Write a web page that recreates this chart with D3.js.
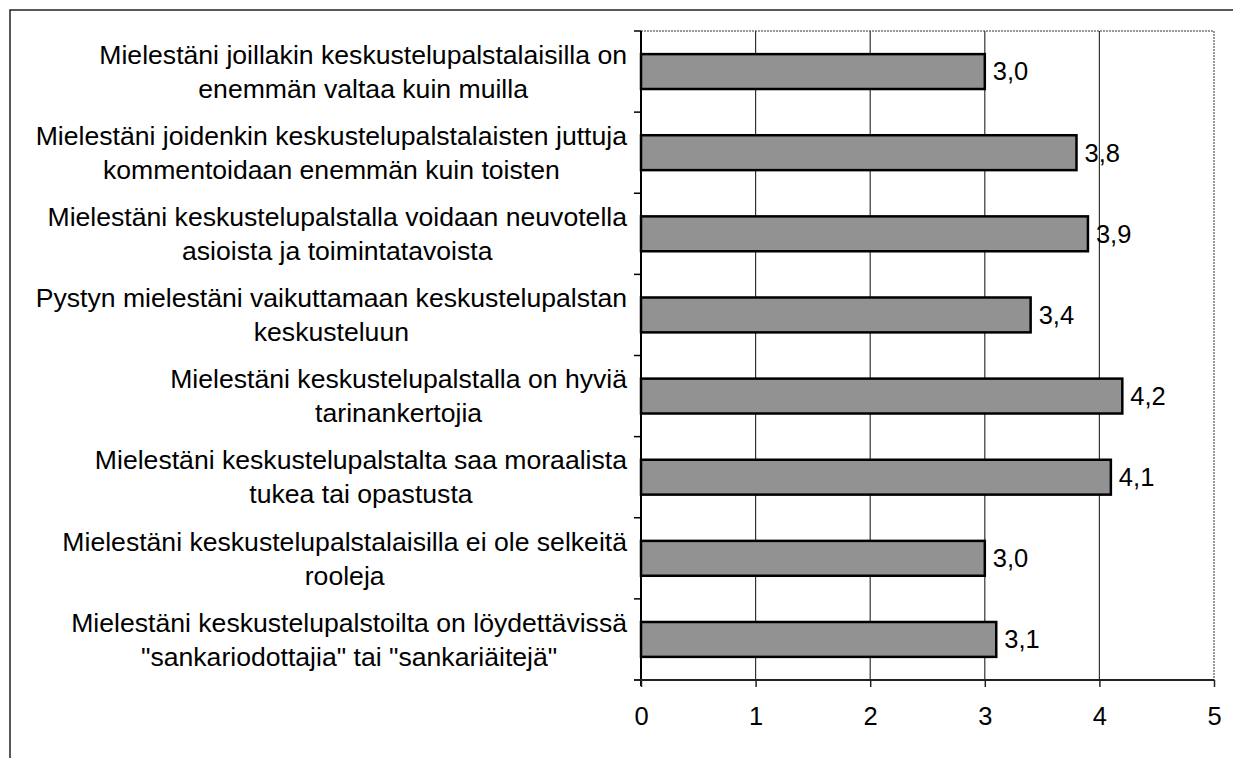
<!DOCTYPE html>
<html>
<head>
<meta charset="utf-8">
<script src="https://cdn.jsdelivr.net/npm/d3@7"></script>
<style>
  body { margin: 0; background: #fff; }
  text { font-family: "Liberation Sans", Arial, sans-serif; fill: #000; }
</style>
</head>
<body>
<div class="chart"></div>
<script>
// statements (two lines each, as wrapped in the original)
const labels = [
  ["Mielestäni joillakin keskustelupalstalaisilla on", "enemmän valtaa kuin muilla"],
  ["Mielestäni joidenkin keskustelupalstalaisten juttuja", "kommentoidaan enemmän kuin toisten"],
  ["Mielestäni keskustelupalstalla voidaan neuvotella", "asioista ja toimintatavoista"],
  ["Pystyn mielestäni vaikuttamaan keskustelupalstan", "keskusteluun"],
  ["Mielestäni keskustelupalstalla on hyviä", "tarinankertojia"],
  ["Mielestäni keskustelupalstalta saa moraalista", "tukea tai opastusta"],
  ["Mielestäni keskustelupalstalaisilla ei ole selkeitä", "rooleja"],
  ["Mielestäni keskustelupalstoilta on löydettävissä", "\"sankariodottajia\" tai \"sankariäitejä\""]
];
const values = [3.0, 3.8, 3.9, 3.4, 4.2, 4.1, 3.0, 3.1];
const xTicks = [0, 1, 2, 3, 4, 5];

const W = 1233, H = 758;
const margin = {top: 31, left: 641, right: 19, bottom: 78};
const width = W - margin.left - margin.right;
const height = H - margin.top - margin.bottom;
const fmt = d => d.toFixed(1).replace(".", ",");

const svg = d3.select(".chart").append("svg")
    .attr("width", W)
    .attr("height", H);

// outer frame (top and left only)
svg.append("path")
    .attr("d", `M10,${H} V10 H${W}`)
    .attr("fill", "none")
    .attr("stroke", "#222")
    .attr("stroke-width", 1.5);

const g = svg.append("g")
    .attr("transform", `translate(${margin.left},${margin.top})`);

const xScale = d3.scaleLinear()
    .domain([0, 5])
    .range([0, width]);
const yScale = d3.scaleBand()
    .domain(d3.range(labels.length))
    .range([0, height])
    .paddingInner(0.57)
    .paddingOuter(0.285);

// plot area border (top + right)
g.append("path")
    .attr("d", `M0,0 H${width} V${height}`)
    .attr("fill", "none")
    .attr("stroke", "#777")
    .attr("stroke-width", 1.5)
    .attr("stroke-dasharray", "2,1");

// gridlines
g.selectAll(".grid")
    .data(xTicks.filter(d => d > 0 && d < 5))
    .enter()
    .append("line")
    .attr("class", "grid")
    .attr("x1", d => xScale(d)).attr("x2", d => xScale(d))
    .attr("y1", 0).attr("y2", height)
    .attr("stroke", "#333")
    .attr("stroke-width", 1.2);

// bars
g.selectAll(".bar")
    .data(values)
    .enter()
    .append("rect")
    .attr("class", "bar")
    .attr("x", 0)
    .attr("y", (d, i) => yScale(i))
    .attr("width", d => xScale(d))
    .attr("height", yScale.bandwidth())
    .attr("fill", "#929292")
    .attr("stroke", "#000")
    .attr("stroke-width", 2.5);

// value labels
g.selectAll(".value")
    .data(values)
    .enter()
    .append("text")
    .attr("class", "value")
    .attr("x", d => xScale(d) + 8)
    .attr("y", (d, i) => yScale(i) + yScale.bandwidth() / 2)
    .attr("dy", "0.35em")
    .attr("font-size", 25.5)
    .text(fmt);

// y axis: line + ticks at band boundaries
const step = yScale.step();
g.append("line")
    .attr("x1", 0).attr("x2", 0)
    .attr("y1", 0).attr("y2", height + 6)
    .attr("stroke", "#000").attr("stroke-width", 2);
g.selectAll(".ytick")
    .data(d3.range(labels.length + 1))
    .enter()
    .append("line")
    .attr("class", "ytick")
    .attr("x1", -7).attr("x2", 0)
    .attr("y1", i => i * step).attr("y2", i => i * step)
    .attr("stroke", "#000").attr("stroke-width", 1.5);

// x axis
const xAxis = d3.axisBottom(xScale)
    .tickValues(xTicks)
    .tickSize(7)
    .tickPadding(20)
    .tickFormat(d3.format("d"));
const xg = g.append("g")
    .attr("class", "axis x-axis")
    .attr("transform", `translate(0,${height})`)
    .call(xAxis);
xg.select(".domain")
    .attr("d", `M-7,0 H${width}`)
    .attr("stroke", "#222").attr("stroke-width", 2);
xg.selectAll(".tick line").attr("stroke", "#222").attr("stroke-width", 1.5);
xg.selectAll(".tick text")
    .attr("font-size", 25.5)
    .attr("font-family", "Liberation Sans, Arial, sans-serif")
    .attr("fill", "#000");

// category labels: wrapped, centred, block right-aligned next to the axis
const lineH = 34;
const lab = g.selectAll(".cat")
    .data(labels)
    .enter()
    .append("text")
    .attr("class", "cat")
    .attr("font-size", 26.6)
    .attr("text-anchor", "middle");
lab.each(function(lines, i) {
    const t = d3.select(this);
    const cy = yScale(i) + yScale.bandwidth() / 2;
    lines.forEach((s, k) => {
        t.append("tspan")
            .attr("y", cy + (k - (lines.length - 1) / 2) * lineH)
            .attr("dy", "0.35em")
            .text(s);
    });
    let maxW = 0;
    t.selectAll("tspan").each(function() {
        maxW = Math.max(maxW, this.getComputedTextLength());
    });
    t.selectAll("tspan").attr("x", -14 - maxW / 2);
});
</script>
</body>
</html>
